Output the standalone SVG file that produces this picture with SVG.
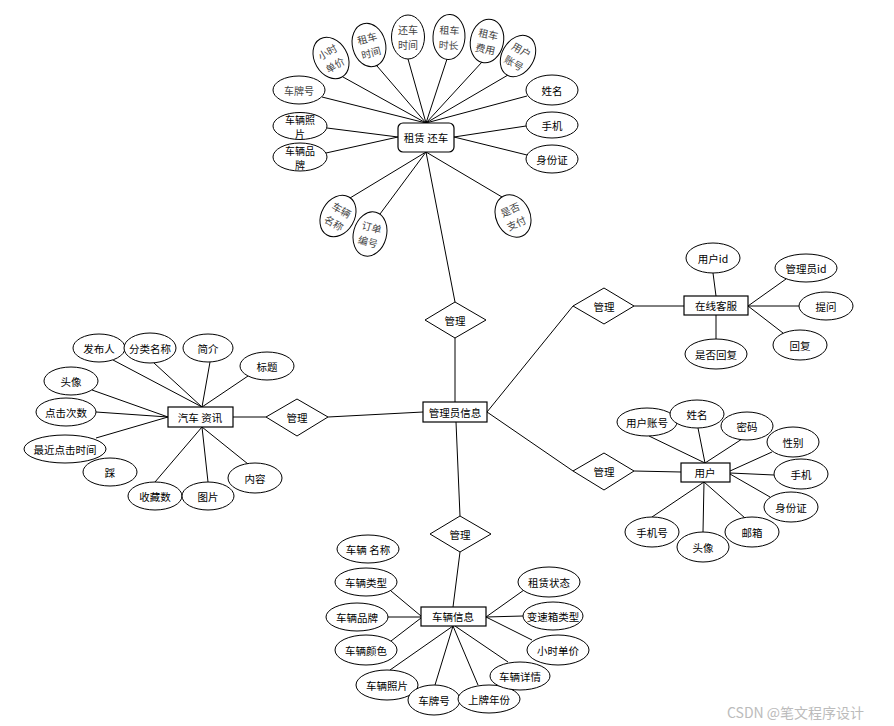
<svg xmlns="http://www.w3.org/2000/svg" width="894" height="726" viewBox="0 0 894 726">
<style>
.e{fill:#fff;stroke:#000;stroke-width:1}
.r{fill:#fff;stroke:#000;stroke-width:1.2}
.d{fill:#fff;stroke:#000;stroke-width:1}
text{font-family:"Noto Sans CJK SC","Liberation Sans",sans-serif;font-size:10.5px;text-anchor:middle;dominant-baseline:central;fill:#000}
.g{fill:#444;font-size:10px}
.s{font-size:10px}
#connectors line{stroke:#000;stroke-width:1}
.wm{font-size:14px;fill:#bbb;text-anchor:start}
</style>
<rect width="894" height="726" fill="#fff"/>
<g id="connectors">
<line x1="322" y1="97" x2="426" y2="123"/>
<line x1="343" y1="77" x2="426" y2="123"/>
<line x1="377" y1="66" x2="426" y2="123"/>
<line x1="408" y1="59" x2="426" y2="123"/>
<line x1="447" y1="59" x2="426" y2="123"/>
<line x1="482" y1="62" x2="426" y2="123"/>
<line x1="508" y1="75" x2="426" y2="123"/>
<line x1="527" y1="96" x2="426" y2="123"/>
<line x1="327" y1="128" x2="398" y2="137"/>
<line x1="326" y1="153" x2="398" y2="137"/>
<line x1="526" y1="126" x2="454" y2="137"/>
<line x1="527" y1="155" x2="454" y2="137"/>
<line x1="350" y1="198" x2="426" y2="152"/>
<line x1="380" y1="214" x2="426" y2="152"/>
<line x1="502" y1="197" x2="426" y2="152"/>
<line x1="426" y1="152" x2="455" y2="302"/>
<line x1="455" y1="338" x2="455" y2="402"/>
<line x1="423" y1="412" x2="328" y2="417"/>
<line x1="487" y1="412" x2="573" y2="306"/>
<line x1="487" y1="412" x2="573" y2="471"/>
<line x1="456" y1="422" x2="460" y2="516"/>
<line x1="233" y1="417" x2="266" y2="417"/>
<line x1="113" y1="360" x2="202" y2="407"/>
<line x1="154" y1="363" x2="202" y2="407"/>
<line x1="210" y1="362" x2="202" y2="407"/>
<line x1="248" y1="376" x2="202" y2="407"/>
<line x1="92" y1="390" x2="168" y2="417"/>
<line x1="96" y1="412" x2="168" y2="417"/>
<line x1="96" y1="438" x2="168" y2="417"/>
<line x1="155" y1="482" x2="202" y2="427"/>
<line x1="208" y1="482" x2="202" y2="427"/>
<line x1="248" y1="464" x2="202" y2="427"/>
<line x1="634" y1="306" x2="684" y2="306"/>
<line x1="713" y1="273" x2="716" y2="296"/>
<line x1="786" y1="279" x2="748" y2="306"/>
<line x1="799" y1="306" x2="748" y2="306"/>
<line x1="783" y1="333" x2="748" y2="306"/>
<line x1="716" y1="339" x2="716" y2="315"/>
<line x1="634" y1="471" x2="681" y2="472"/>
<line x1="649" y1="436" x2="705" y2="463"/>
<line x1="698" y1="428" x2="705" y2="463"/>
<line x1="742" y1="439" x2="705" y2="463"/>
<line x1="772" y1="452" x2="730" y2="471"/>
<line x1="774" y1="475" x2="730" y2="473"/>
<line x1="770" y1="497" x2="730" y2="474"/>
<line x1="745" y1="518" x2="704" y2="482"/>
<line x1="703" y1="532" x2="704" y2="482"/>
<line x1="652" y1="517" x2="704" y2="482"/>
<line x1="460" y1="552" x2="453" y2="607"/>
<line x1="391" y1="591" x2="421" y2="616"/>
<line x1="388" y1="617" x2="421" y2="617"/>
<line x1="391" y1="641" x2="421" y2="618"/>
<line x1="390" y1="670" x2="453" y2="626"/>
<line x1="435" y1="685" x2="453" y2="626"/>
<line x1="478" y1="685" x2="453" y2="626"/>
<line x1="508" y1="662" x2="455" y2="626"/>
<line x1="532" y1="640" x2="486" y2="617"/>
<line x1="523" y1="616" x2="486" y2="617"/>
<line x1="524" y1="590" x2="486" y2="617"/>
</g>

<g id="rent"><rect class="r" x="398" y="123" width="56" height="29" rx="5"/><text x="426" y="137.5">租赁 还车</text></g>
<g id="top-plate"><ellipse class="e" cx="299" cy="90" rx="26" ry="14"/><text class="g" x="299" y="90">车牌号</text></g>
<g id="top-price" transform="translate(331,58) rotate(-30)"><ellipse class="e" rx="16.5" ry="22"/><text class="g" y="-7.5">小时</text><text class="g" y="7.5">单价</text></g>
<g id="top-renttime" transform="translate(369,45) rotate(-15)"><ellipse class="e" rx="16.5" ry="22"/><text class="g" y="-7.5">租车</text><text class="g" y="7.5">时间</text></g>
<g id="top-returntime" transform="translate(408,37)"><ellipse class="e" rx="16.5" ry="22"/><text class="g" y="-7.5">还车</text><text class="g" y="7.5">时间</text></g>
<g id="top-duration" transform="translate(449,37) rotate(3)"><ellipse class="e" rx="16" ry="22.5"/><text class="g" y="-7.5">租车</text><text class="g" y="7.5">时长</text></g>
<g id="top-fee" transform="translate(487,41) rotate(12)"><ellipse class="e" rx="16.5" ry="22"/><text class="g" y="-7.5">租车</text><text class="g" y="7.5">费用</text></g>
<g id="top-account" transform="translate(518,56) rotate(30)"><ellipse class="e" rx="16" ry="22"/><text class="g" y="-7.5">用户</text><text class="g" y="7.5">账号</text></g>
<g id="top-name"><ellipse class="e" cx="552" cy="90" rx="26" ry="15"/><text x="552" y="90">姓名</text></g>
<g id="top-phone"><ellipse class="e" cx="552" cy="125" rx="26" ry="13"/><text x="552" y="125">手机</text></g>
<g id="top-id"><ellipse class="e" cx="552" cy="159" rx="26" ry="14"/><text x="552" y="159">身份证</text></g>
<g id="top-photo"><ellipse class="e" cx="300" cy="126" rx="27" ry="13.5"/><text class="s" x="300" y="119">车辆照</text><text class="s" x="300" y="133">片</text></g>
<g id="top-brand"><ellipse class="e" cx="300" cy="157" rx="27" ry="14"/><text class="s" x="300" y="150">车辆品</text><text class="s" x="300" y="164">牌</text></g>
<g id="top-carname" transform="translate(338,216) rotate(30)"><ellipse class="e" rx="16.5" ry="22"/><text class="g" y="-7.5">车辆</text><text class="g" y="7.5">名称</text></g>
<g id="top-order" transform="translate(370,234) rotate(15)"><ellipse class="e" rx="16.5" ry="22.5"/><text class="g" y="-7.5">订单</text><text class="g" y="7.5">编号</text></g>
<g id="top-paid" transform="translate(513,216) rotate(-25)"><ellipse class="e" rx="17" ry="22"/><text class="g" y="-7.5">是否</text><text class="g" y="7.5">支付</text></g>

<g id="manage-top"><polygon class="d" points="425,320 455,302 486,320 455,338"/><text x="455" y="320">管理</text></g>
<g id="admin"><rect class="r" x="423" y="402" width="64" height="20"/><text x="455" y="412">管理员信息</text></g>

<g id="manage-left"><polygon class="d" points="266,417 297,399 328,417 297,436"/><text x="297" y="417">管理</text></g>
<g id="news"><rect class="r" x="168" y="407" width="65" height="20"/><text x="200" y="417">汽车 资讯</text></g>
<g id="l-publisher"><ellipse class="e" cx="99" cy="348" rx="26" ry="14"/><text x="99" y="348">发布人</text></g>
<g id="l-category"><ellipse class="e" cx="150" cy="348" rx="26" ry="15"/><text x="150" y="348">分类名称</text></g>
<g id="l-intro"><ellipse class="e" cx="208" cy="348" rx="25" ry="14"/><text x="208" y="348">简介</text></g>
<g id="l-title"><ellipse class="e" cx="267" cy="366" rx="27" ry="14"/><text x="267" y="366">标题</text></g>
<g id="l-avatar"><ellipse class="e" cx="71" cy="381" rx="27" ry="14"/><text x="71" y="381">头像</text></g>
<g id="l-clicks"><ellipse class="e" cx="66" cy="412" rx="30" ry="14"/><text x="66" y="412">点击次数</text></g>
<g id="l-lastclick"><ellipse class="e" cx="65" cy="449" rx="41" ry="14"/><text x="65" y="449">最近点击时间</text></g>
<g id="l-dislike"><ellipse class="e" cx="110" cy="472" rx="27" ry="14"/><text x="110" y="472">踩</text></g>
<g id="l-favs"><ellipse class="e" cx="155" cy="496" rx="27" ry="14"/><text x="155" y="496">收藏数</text></g>
<g id="l-image"><ellipse class="e" cx="208" cy="496" rx="26" ry="14"/><text x="208" y="496">图片</text></g>
<g id="l-content"><ellipse class="e" cx="255" cy="478" rx="27" ry="15"/><text x="255" y="478">内容</text></g>

<g id="manage-rt"><polygon class="d" points="573,306 604,288 634,306 604,324"/><text x="604" y="306">管理</text></g>
<g id="service"><rect class="r" x="684" y="296" width="64" height="19"/><text x="716" y="305.5">在线客服</text></g>
<g id="s-userid"><ellipse class="e" cx="713" cy="258" rx="27" ry="15"/><text x="713" y="258">用户id</text></g>
<g id="s-adminid"><ellipse class="e" cx="806" cy="268" rx="31" ry="14"/><text x="806" y="268">管理员id</text></g>
<g id="s-ask"><ellipse class="e" cx="826" cy="306" rx="27" ry="14"/><text x="826" y="306">提问</text></g>
<g id="s-reply"><ellipse class="e" cx="800" cy="345" rx="27" ry="15"/><text x="800" y="345">回复</text></g>
<g id="s-replied"><ellipse class="e" cx="716" cy="354" rx="31" ry="15"/><text x="716" y="354">是否回复</text></g>

<g id="manage-rb"><polygon class="d" points="573,471 604,453 634,471 604,490"/><text x="604" y="471">管理</text></g>
<g id="user"><rect class="r" x="681" y="463" width="49" height="19"/><text x="705" y="472.5">用户</text></g>
<g id="u-account"><ellipse class="e" cx="647" cy="422" rx="30" ry="14"/><text x="647" y="422">用户账号</text></g>
<g id="u-name"><ellipse class="e" cx="697" cy="414" rx="27" ry="14"/><text x="697" y="414">姓名</text></g>
<g id="u-pass"><ellipse class="e" cx="747" cy="426" rx="26" ry="14"/><text x="747" y="426">密码</text></g>
<g id="u-sex"><ellipse class="e" cx="793" cy="442" rx="26" ry="15"/><text x="793" y="442">性别</text></g>
<g id="u-phone"><ellipse class="e" cx="801" cy="474" rx="27" ry="15"/><text x="801" y="474">手机</text></g>
<g id="u-idcard"><ellipse class="e" cx="791" cy="507" rx="27" ry="15"/><text x="791" y="507">身份证</text></g>
<g id="u-mail"><ellipse class="e" cx="752" cy="532" rx="27" ry="15"/><text x="752" y="532">邮箱</text></g>
<g id="u-avatar"><ellipse class="e" cx="703" cy="547" rx="26" ry="15"/><text x="703" y="547">头像</text></g>
<g id="u-mobile"><ellipse class="e" cx="652" cy="532" rx="27" ry="15"/><text x="652" y="532">手机号</text></g>

<g id="manage-bottom"><polygon class="d" points="430,534 460,516 491,534 460,552"/><text x="460" y="534">管理</text></g>
<g id="car"><rect class="r" x="421" y="607" width="65" height="19"/><text x="453" y="616.5">车辆信息</text></g>
<g id="c-name"><ellipse class="e" cx="368" cy="549" rx="31" ry="14"/><text x="368" y="549">车辆 名称</text></g>
<g id="c-type"><ellipse class="e" cx="366" cy="582" rx="31" ry="14"/><text x="366" y="582">车辆类型</text></g>
<g id="c-brand"><ellipse class="e" cx="357" cy="617" rx="31" ry="14"/><text x="357" y="617">车辆品牌</text></g>
<g id="c-color"><ellipse class="e" cx="366" cy="650" rx="31" ry="15"/><text x="366" y="650">车辆颜色</text></g>
<g id="c-photo"><ellipse class="e" cx="387" cy="685" rx="31" ry="15"/><text x="387" y="685">车辆照片</text></g>
<g id="c-plate"><ellipse class="e" cx="434" cy="700" rx="26" ry="15"/><text x="434" y="700">车牌号</text></g>
<g id="c-year"><ellipse class="e" cx="489" cy="699" rx="31" ry="14"/><text x="489" y="699">上牌年份</text></g>
<g id="c-detail"><ellipse class="e" cx="520" cy="676" rx="30" ry="14"/><text x="520" y="676">车辆详情</text></g>
<g id="c-price"><ellipse class="e" cx="558" cy="650" rx="31" ry="15"/><text x="558" y="650">小时单价</text></g>
<g id="c-gear"><ellipse class="e" cx="553" cy="616" rx="30" ry="14"/><text x="553" y="616">变速箱类型</text></g>
<g id="c-status"><ellipse class="e" cx="549" cy="582" rx="31" ry="15"/><text x="549" y="582">租赁状态</text></g>

<text class="wm" x="727" y="712">CSDN @笔文程序设计</text>
</svg>
